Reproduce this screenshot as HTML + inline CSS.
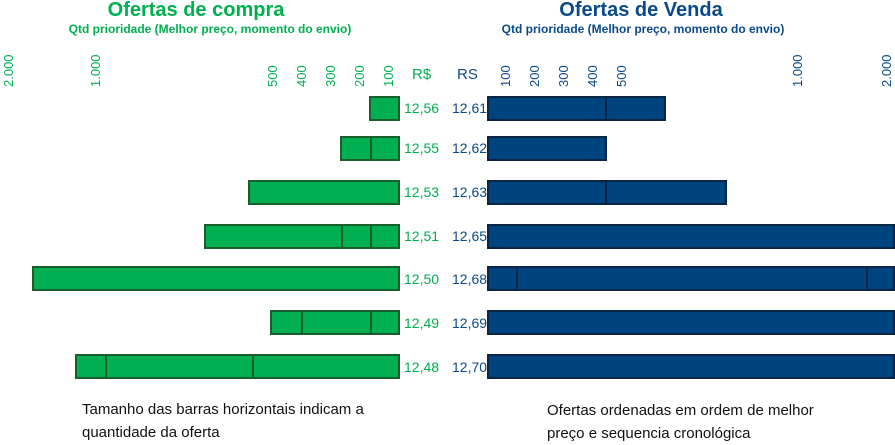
<!DOCTYPE html><html><head><style>
body{margin:0;width:895px;height:441px;background:#fff;position:relative;overflow:hidden;font-family:"Liberation Sans",Arial,sans-serif}
div{position:absolute}
.g{color:#00b050}.b{color:#0a4a8a}
.t{font-weight:bold;font-size:20px;white-space:nowrap;transform:translateX(-50%)}
.s{font-weight:bold;font-size:12px;white-space:nowrap;transform:translateX(-50%)}
.k{font-size:13px;transform:rotate(-90deg);transform-origin:left top;white-space:nowrap}
.gb{background:#00b050;border:2px solid #1a5e2e;box-sizing:border-box;height:25px}
.bb{background:#00447f;border:2px solid #0d2544;box-sizing:border-box;height:25px}
.d{width:2px;height:21px;top:0}
.p{font-size:14px}
.n{font-size:15px;color:#111;line-height:23px}
</style></head><body>
<div class="t g" style="left:196px;top:-1px">Ofertas de compra</div>
<div class="s g" style="left:210px;top:22px">Qtd prioridade (Melhor preço, momento do envio)</div>
<div class="t b" style="left:641px;top:-1px">Ofertas de Venda</div>
<div class="s b" style="left:643px;top:22px">Qtd prioridade (Melhor preço, momento do envio)</div>
<div class="k g" style="left:1px;top:87px">2.000</div>
<div class="k g" style="left:88px;top:87px">1.000</div>
<div class="k g" style="left:265px;top:87px">500</div>
<div class="k g" style="left:294px;top:87px">400</div>
<div class="k g" style="left:323px;top:87px">300</div>
<div class="k g" style="left:352px;top:87px">200</div>
<div class="k g" style="left:381px;top:87px">100</div>
<div class="g" style="left:412px;top:66px;font-size:15px">R$</div>
<div class="b" style="left:457px;top:66px;font-size:15px">RS</div>
<div class="k b" style="left:498px;top:87px">100</div>
<div class="k b" style="left:527px;top:87px">200</div>
<div class="k b" style="left:556px;top:87px">300</div>
<div class="k b" style="left:585px;top:87px">400</div>
<div class="k b" style="left:614px;top:87px">500</div>
<div class="k b" style="left:790px;top:87px">1.000</div>
<div class="k b" style="left:879px;top:87px">2.000</div>

<div class="gb" style="left:369px;top:96px;width:31px"></div>
<div class="gb" style="left:340px;top:136px;width:60px"><div class="d" style="left:28px;background:#1a5e2e"></div></div>
<div class="gb" style="left:248px;top:180px;width:152px"></div>
<div class="gb" style="left:204px;top:224px;width:196px"><div class="d" style="left:135px;background:#1a5e2e"></div><div class="d" style="left:164px;background:#1a5e2e"></div></div>
<div class="gb" style="left:32px;top:266px;width:368px"></div>
<div class="gb" style="left:270px;top:310px;width:130px"><div class="d" style="left:29px;background:#1a5e2e"></div><div class="d" style="left:98px;background:#1a5e2e"></div></div>
<div class="gb" style="left:75px;top:354px;width:325px"><div class="d" style="left:28px;background:#1a5e2e"></div><div class="d" style="left:175px;background:#1a5e2e"></div></div>

<div class="bb" style="left:487px;top:96px;width:179px"><div class="d" style="left:116px;background:#0d2544"></div></div>
<div class="bb" style="left:487px;top:136px;width:120px"></div>
<div class="bb" style="left:487px;top:180px;width:240px"><div class="d" style="left:116px;background:#0d2544"></div></div>
<div class="bb" style="left:487px;top:224px;width:408px"></div>
<div class="bb" style="left:487px;top:266px;width:408px"><div class="d" style="left:27px;background:#0d2544"></div><div class="d" style="left:377px;background:#0d2544"></div></div>
<div class="bb" style="left:487px;top:310px;width:408px"></div>
<div class="bb" style="left:487px;top:354px;width:408px"></div>

<div class="p g" style="left:404px;top:100px">12,56</div><div class="p b" style="left:452px;top:100px">12,61</div>
<div class="p g" style="left:404px;top:140px">12,55</div><div class="p b" style="left:452px;top:140px">12,62</div>
<div class="p g" style="left:404px;top:184px">12,53</div><div class="p b" style="left:452px;top:184px">12,63</div>
<div class="p g" style="left:404px;top:228px">12,51</div><div class="p b" style="left:452px;top:228px">12,65</div>
<div class="p g" style="left:404px;top:271px">12,50</div><div class="p b" style="left:452px;top:271px">12,68</div>
<div class="p g" style="left:404px;top:315px">12,49</div><div class="p b" style="left:452px;top:315px">12,69</div>
<div class="p g" style="left:404px;top:359px">12,48</div><div class="p b" style="left:452px;top:359px">12,70</div>

<div class="n" style="left:82px;top:398px">Tamanho das barras horizontais indicam a<br>quantidade da oferta</div>
<div class="n" style="left:547px;top:399px">Ofertas ordenadas em ordem de melhor<br>preço e sequencia cronológica</div>
</body></html>
